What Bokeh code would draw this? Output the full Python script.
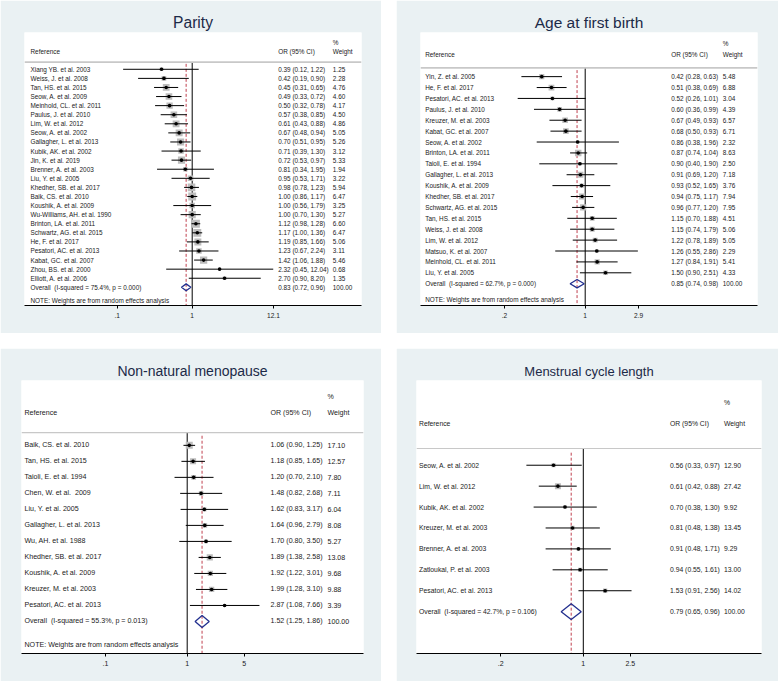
import math
from bokeh.plotting import figure
from bokeh.layouts import row, column
from bokeh.models import Range1d, FixedTicker, CustomJSTickFormatter, Span
from bokeh.core.properties import value
from bokeh.embed import file_html
from bokeh.resources import INLINE

# ---------------- data ----------------
parity_refs = ["Xiang YB. et al. 2003", "Weiss, J. et al. 2008", "Tan, HS. et al. 2015",
               "Seow, A. et al. 2009", "Meinhold, CL. et al. 2011", "Paulus, J. et al. 2010",
               "Lim, W. et al. 2012", "Seow, A. et al. 2002", "Gallagher, L. et al. 2013",
               "Kubik, AK. et al. 2002", "Jin, K. et al. 2019", "Brenner, A. et al. 2003",
               "Liu, Y. et al. 2005", "Khedher, SB. et al. 2017", "Baik, CS. et al. 2010",
               "Koushik, A. et al. 2009", "Wu-Williams, AH. et al. 1990", "Brinton, LA. et al. 2011",
               "Schwartz, AG. et al. 2015", "He, F. et al. 2017", "Pesatori, AC. et al. 2013",
               "Kabat, GC. et al. 2007", "Zhou, BS. et al. 2000", "Elliott, A. et al. 2006"]
parity_or = [0.39, 0.42, 0.45, 0.49, 0.50, 0.57, 0.61, 0.67, 0.70, 0.71, 0.72, 0.81,
             0.95, 0.98, 1.00, 1.00, 1.00, 1.12, 1.17, 1.19, 1.23, 1.42, 2.32, 2.70]
parity_lo = [0.12, 0.19, 0.31, 0.33, 0.32, 0.38, 0.43, 0.48, 0.51, 0.39, 0.53, 0.34,
             0.53, 0.78, 0.86, 0.56, 0.70, 0.98, 1.00, 0.85, 0.67, 1.06, 0.45, 0.90]
parity_hi = [1.22, 0.90, 0.65, 0.72, 0.78, 0.85, 0.88, 0.94, 0.95, 1.30, 0.97, 1.95,
             1.71, 1.23, 1.17, 1.79, 1.30, 1.28, 1.36, 1.66, 2.24, 1.88, 12.04, 8.20]
parity_wt = [1.25, 2.28, 4.76, 4.60, 4.17, 4.50, 4.86, 5.05, 5.26, 3.12, 5.33, 1.94,
             3.22, 5.94, 6.47, 3.25, 5.27, 6.60, 6.47, 5.06, 3.11, 5.46, 0.68, 1.35]
parity_overall = [0.83, 0.72, 0.96]
parity_het = "75.4%, p = 0.000"
parity_ticks = [0.1, 1, 12.1]

afb_refs = ["Yin, Z. et al. 2005", "He, F. et al. 2017", "Pesatori, AC. et al. 2013",
            "Paulus, J. et al. 2010", "Kreuzer, M. et al. 2003", "Kabat, GC. et al. 2007",
            "Seow, A. et al. 2002", "Brinton, LA. et al. 2011", "Taioli, E. et al. 1994",
            "Gallagher, L. et al. 2013", "Koushik, A. et al. 2009", "Khedher, SB. et al. 2017",
            "Schwartz, AG. et al. 2015", "Tan, HS. et al. 2015", "Weiss, J. et al. 2008",
            "Lim, W. et al. 2012", "Matsuo, K. et al. 2007", "Meinhold, CL. et al. 2011",
            "Liu, Y. et al. 2005"]
afb_or = [0.42, 0.51, 0.52, 0.60, 0.67, 0.68, 0.86, 0.87, 0.90, 0.91, 0.93, 0.94, 0.96,
          1.15, 1.15, 1.22, 1.26, 1.27, 1.50]
afb_lo = [0.28, 0.38, 0.26, 0.36, 0.49, 0.50, 0.38, 0.74, 0.40, 0.69, 0.52, 0.75, 0.77,
          0.70, 0.74, 0.78, 0.55, 0.84, 0.90]
afb_hi = [0.63, 0.69, 1.01, 0.99, 0.93, 0.93, 1.96, 1.04, 1.90, 1.20, 1.65, 1.17, 1.20,
          1.88, 1.79, 1.89, 2.86, 1.91, 2.51]
afb_wt = [5.48, 6.88, 3.04, 4.39, 6.57, 6.71, 2.32, 8.63, 2.50, 7.18, 3.76, 7.94, 7.95,
          4.51, 5.06, 5.05, 2.29, 5.41, 4.33]
afb_overall = [0.85, 0.74, 0.98]
afb_het = "62.7%, p = 0.000"
afb_ticks = [0.2, 1, 2.9]

nnm_refs = ["Baik, CS. et al. 2010", "Tan, HS. et al. 2015", "Taioli, E. et al. 1994",
            "Chen, W. et al.\u00a0 2009", "Liu, Y. et al. 2005", "Gallagher, L. et al. 2013",
            "Wu, AH. et al. 1988", "Khedher, SB. et al. 2017", "Koushik, A. et al. 2009",
            "Kreuzer, M. et al. 2003", "Pesatori, AC. et al. 2013"]
nnm_or = [1.06, 1.18, 1.20, 1.48, 1.62, 1.64, 1.70, 1.89, 1.92, 1.99, 2.87]
nnm_lo = [0.90, 0.85, 0.70, 0.82, 0.83, 0.96, 0.80, 1.38, 1.22, 1.28, 1.08]
nnm_hi = [1.25, 1.65, 2.10, 2.68, 3.17, 2.79, 3.50, 2.58, 3.01, 3.10, 7.66]
nnm_wt = [17.10, 12.57, 7.80, 7.11, 6.04, 8.08, 5.27, 13.08, 9.68, 9.88, 3.39]
nnm_overall = [1.52, 1.25, 1.86]
nnm_het = "55.3%, p = 0.013"
nnm_ticks = [0.1, 1, 5]

mcl_refs = ["Seow, A. et al. 2002", "Lim, W. et al. 2012", "Kubik, AK. et al. 2002",
            "Kreuzer, M. et al. 2003", "Brenner, A. et al. 2003", "Zatloukal, P. et al. 2003",
            "Pesatori, AC. et al. 2013"]
mcl_or = [0.56, 0.61, 0.70, 0.81, 0.91, 0.94, 1.53]
mcl_lo = [0.33, 0.42, 0.38, 0.48, 0.48, 0.55, 0.91]
mcl_hi = [0.97, 0.88, 1.30, 1.38, 1.71, 1.61, 2.56]
mcl_wt = [12.90, 27.42, 9.92, 13.45, 9.29, 13.00, 14.02]
mcl_overall = [0.79, 0.65, 0.96]
mcl_het = "42.7%, p = 0.106"
mcl_ticks = [0.2, 1, 2.5]

NOTE = "NOTE: Weights are from random effects analysis"

# ---------------- styles ----------------
BG = "#eaf1f3"
TXT = "#1a1a1a"
TITLE_C = "#1c2a48"
BOX = "#bdbdbd"
NAVY = "#23308f"
RED = "#c0404f"
FONT = "Liberation Sans"


def panel(title, refs, ors, los, his, wts, ov, het, ticks, note, g):
    n = len(refs)
    conv = lambda px: 10 ** ((px - g["x1"]) / g["ppd"])
    fl = g["fl"]
    fr = fl + g["w"] - g["bl"] - g["br"]
    p = figure(width=g["w"], height=g["h"], x_axis_type="log",
               x_range=Range1d(conv(fl), conv(fr)),
               y_range=Range1d(n + 2, -4.05),
               y_axis_location=None, toolbar_location=None, output_backend="svg",
               min_border_left=g["bl"], min_border_right=g["br"],
               min_border_top=g["bt"], min_border_bottom=g["bb"],
               background_fill_color="white", border_fill_color=BG,
               outline_line_color=None, title=title)
    p.title.align = "center"
    p.title.text_font = FONT
    p.title.text_font_size = g["tfs"]
    p.title.text_font_style = "normal"
    p.title.text_color = TITLE_C
    p.title.standoff = g["tso"]
    p.grid.visible = False

    fs = value(g["fs"])
    xl, xo, xw = conv(g["cl"]), conv(g["co"]), conv(g["cw"])
    rows_y = list(range(n))

    # header
    p.add_layout(Span(location=-0.8, dimension="width", line_color="#c8c8c8",
                      line_width=g["sepw"]))
    p.text(x=[xl, xo, xw, xw], y=[-2, -2, -2, -3],
           text=["Reference", "OR (95% CI)", "Weight", "%"],
           text_font=value(FONT), text_font_size=fs, text_baseline="middle",
           text_align="left", text_color=TXT)

    # reference lines
    p.segment(x0=[1], x1=[1], y0=[-0.8], y1=[n + 2], line_color="black", line_width=1)
    p.segment(x0=[ov[0]], x1=[ov[0]], y0=[-0.6], y1=[n + 2], line_color=RED,
              line_width=1, line_dash="3 2")

    # studies
    p.scatter(x=ors, y=rows_y, size=[g["k"] * math.sqrt(w) for w in wts],
              marker="square", fill_color=BOX, line_color=None)
    p.segment(x0=los, x1=his, y0=rows_y, y1=rows_y, line_color="black", line_width=1)
    p.scatter(x=ors, y=rows_y, size=3.6, marker="circle", fill_color="black",
              line_color=None)

    # overall diamond
    h = 0.38
    p.patch(x=[ov[1], ov[0], ov[2], ov[0]], y=[n, n - h, n, n + h],
            fill_color=None, line_color=NAVY, line_width=1.3)

    labels = list(refs) + ["Overall\u00a0 (I-squared = " + het + ")"]
    ortxt = ["%.2f (%.2f, %.2f)" % (o, l, u) for o, l, u in zip(ors, los, his)]
    ortxt.append("%.2f (%.2f, %.2f)" % tuple(ov))
    wtxt = ["%.2f" % w for w in wts] + ["100.00"]
    yy = list(range(n + 1))
    p.text(x=[xl] * (n + 1), y=yy, text=labels, text_font=value(FONT), text_font_size=fs,
           text_baseline="middle", text_align="left", text_color=TXT)
    p.text(x=[xo] * (n + 1), y=yy, text=ortxt, text_font=value(FONT), text_font_size=fs,
           text_baseline="middle", text_align="left", text_color=TXT)
    p.text(x=[xw] * (n + 1), y=yy, text=wtxt, text_font=value(FONT), text_font_size=fs,
           text_baseline="middle", text_align="left", text_color=TXT)
    if note:
        p.text(x=[xl], y=[n + 1.47], text=[NOTE], text_font=value(FONT), text_font_size=fs,
               text_baseline="middle", text_align="left", text_color=TXT)

    ax = p.xaxis[0]
    ax.ticker = FixedTicker(ticks=ticks, minor_ticks=[])
    ax.formatter = CustomJSTickFormatter(
        code="return (tick < 1) ? tick.toString().replace(/^0/, '') : tick.toString();")
    ax.axis_line_color = "black"
    ax.axis_line_width = 1
    ax.major_tick_line_color = "black"
    ax.major_tick_in = 0
    ax.major_tick_out = 3
    ax.minor_tick_line_color = None
    ax.major_label_text_font = FONT
    ax.major_label_text_font_size = g["tkfs"]
    ax.major_label_text_color = TXT
    ax.major_label_standoff = 4
    return p


g_tl = dict(w=381, h=333, bl=24, br=20, bt=32, bb=28, fl=24, x1=191.7, ppd=75.0,
            cl=30, co=277.7, cw=332.3, fs="6.4px", tkfs="6.6px", k=3.1,
            tfs="15.6px", tso=3, sepw=1.8)
g_tr = dict(w=382, h=333, bl=24, br=21, bt=32, bb=28, fl=420, x1=584.7, ppd=115.4,
            cl=424.7, co=670.7, cw=722.3, fs="6.4px", tkfs="6.6px", k=2.2,
            tfs="15.5px", tso=3, sepw=1.8)
g_bl = dict(w=381, h=333, bl=21, br=18, bt=32, bb=28, fl=21, x1=186.7, ppd=81.7,
            cl=24, co=270, cw=327, fs="7.1px", tkfs="7px", k=1.7,
            tfs="14px", tso=3, sepw=1.2)
g_br = dict(w=382, h=333, bl=20, br=17, bt=32, bb=28, fl=416, x1=582.8, ppd=118.2,
            cl=418.5, co=669.5, cw=723.5, fs="6.8px", tkfs="7px", k=1.15,
            tfs="13px", tso=3, sepw=1.2)

p1 = panel("Parity", parity_refs, parity_or, parity_lo, parity_hi, parity_wt,
           parity_overall, parity_het, parity_ticks, True, g_tl)
p2 = panel("Age at first birth", afb_refs, afb_or, afb_lo, afb_hi, afb_wt,
           afb_overall, afb_het, afb_ticks, True, g_tr)
p3 = panel("Non-natural menopause", nnm_refs, nnm_or, nnm_lo, nnm_hi, nnm_wt,
           nnm_overall, nnm_het, nnm_ticks, True, g_bl)
p4 = panel("Menstrual cycle length", mcl_refs, mcl_or, mcl_lo, mcl_hi, mcl_wt,
           mcl_overall, mcl_het, mcl_ticks, False, g_br)

layout = column(row(p1, p2, spacing=15), row(p3, p4, spacing=15), spacing=15)

open("out.html", "w").write(file_html(layout, INLINE))
